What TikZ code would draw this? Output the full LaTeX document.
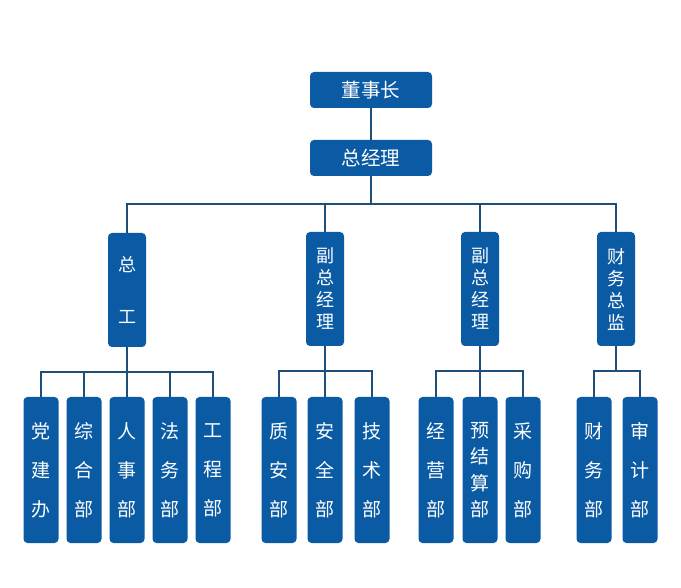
\documentclass[tikz,border=0pt]{standalone}
\usepackage{fontspec}
\newfontfamily\cjk{Noto Sans CJK SC}
\definecolor{boxblue}{RGB}{11,90,164}
\definecolor{lineblue}{RGB}{31,78,121}

\begin{document}
\begin{tikzpicture}[x=1pt, y=-1pt,
  box/.style={fill=boxblue, rounded corners=4pt, text=white, align=center,
    inner sep=0pt},
  topbox/.style={box, minimum width=122pt, minimum height=36pt,
    font=\cjk\fontsize{19.5}{19.5}\selectfont},
  midbox/.style={box, minimum width=38pt, minimum height=114pt,
    font=\cjk\fontsize{18}{22}\selectfont},
  leafbox/.style={box, minimum width=35pt, minimum height=146pt,
    font=\cjk\fontsize{19}{39}\selectfont},
  link/.style={draw=lineblue, line width=1.4pt}]
  \useasboundingbox (0,0) rectangle (681,588);

  \node(dsz)[topbox] at (371,90) {董事长};
  \node(zjl)[topbox] at (371,158) {总经理};

  % second row
  \node(zg)[midbox, font=\cjk\fontsize{18}{52}\selectfont] at (127,290) {总\\工};
  \node(fz1)[midbox] at (325,289) {副\\总\\经\\理};
  \node(fz2)[midbox] at (480,289) {副\\总\\经\\理};
  \node(cwzj)[midbox] at (616,289) {财\\务\\总\\监};

  % leaves
  \node(djb)[leafbox] at (41,470) {党\\建\\办};
  \node(zhb)[leafbox] at (84,470) {综\\合\\部};
  \node(rsb)[leafbox] at (127,470) {人\\事\\部};
  \node(fwb)[leafbox] at (170,470) {法\\务\\部};
  \node(gcb)[leafbox] at (213,470) {工\\程\\部};
  \node(zab)[leafbox] at (279,470) {质\\安\\部};
  \node(aqb)[leafbox] at (325,470) {安\\全\\部};
  \node(jsb)[leafbox] at (372,470) {技\\术\\部};
  \node(jyb)[leafbox] at (436,470) {经\\营\\部};
  \node(yjsb)[leafbox, font=\cjk\fontsize{19}{26.5}\selectfont] at (480,470) {预\\结\\算\\部};
  \node(cgb)[leafbox] at (523,470) {采\\购\\部};
  \node(cwb)[leafbox] at (594,470) {财\\务\\部};
  \node(sjb)[leafbox] at (640,470) {审\\计\\部};

  \draw[link] (dsz) -- (zjl);
  \foreach \c in {zg,fz1,fz2,cwzj}
    \draw[link] (zjl.south) -- ++(0,28) -| (\c.north);
  \foreach \c in {djb,zhb,rsb,fwb,gcb}
    \draw[link] (zg.south) -- ++(0,25) -| (\c.north);
  \foreach \c in {zab,aqb,jsb}
    \draw[link] (fz1.south) -- ++(0,25) -| (\c.north);
  \foreach \c in {jyb,yjsb,cgb}
    \draw[link] (fz2.south) -- ++(0,25) -| (\c.north);
  \foreach \c in {cwb,sjb}
    \draw[link] (cwzj.south) -- ++(0,25) -| (\c.north);
\end{tikzpicture}
\end{document}
